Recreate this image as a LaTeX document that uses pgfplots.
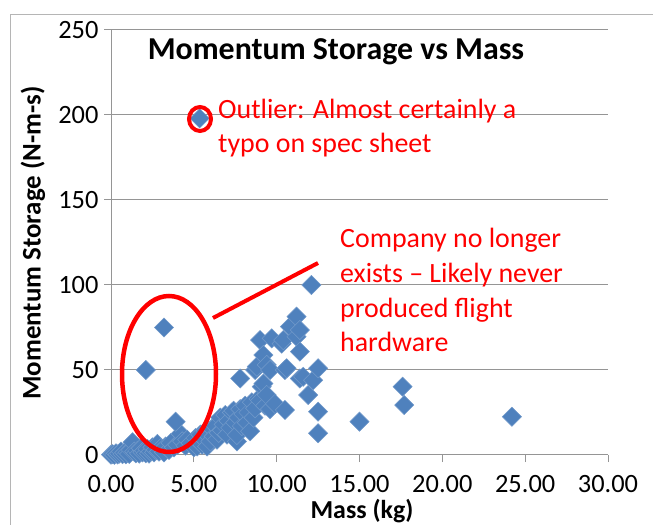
\documentclass[border=0pt]{standalone}
\usepackage{pgfplots}
\pgfplotsset{compat=1.18}
\usepackage{fontspec}
\setmainfont{Carlito}
\definecolor{mkblue}{HTML}{4F81BD}
\definecolor{gridgray}{HTML}{959595}
\definecolor{annred}{HTML}{FF0000}
\begin{document}
\begin{tikzpicture}
\path[use as bounding box] (0,0) rectangle (653bp,525bp);
\begin{scope}
\clip (0,0) rectangle (653bp,525bp);
\draw[gridgray!70, line width=1bp] (10bp,-20bp) -- (10bp,510bp) -- (700bp,510bp);
\end{scope}
\begin{axis}[
  at={(111bp,70bp)}, anchor=south west,
  scale only axis, width=497bp, height=425bp,
  xmin=0, xmax=30, ymin=0, ymax=250,
  xtick={0,5,...,30}, ytick={0,50,...,250},
  axis x line*=bottom, axis y line*=left,
  axis line style={gridgray, line width=1bp},
  tick align=outside, major tick length=7bp,
  tick style={gridgray, line width=1bp},
  ymajorgrids, grid style={gridgray, line width=1bp},
  /pgf/number format/assume math mode=true,
  xticklabel style={/pgf/number format/.cd, fixed, fixed zerofill, precision=2, /tikz/.cd, font=\fontsize{26.5}{28}\selectfont, yshift=-12bp, inner sep=1bp},
  yticklabel style={/pgf/number format/.cd, fixed, /tikz/.cd, font=\fontsize{26.5}{28}\selectfont, xshift=-2bp},
  clip=false,
]
\addplot[only marks, mark=square*, mark size=6.8bp,
  mark options={rotate=45, fill=mkblue, draw=mkblue!80!white, line width=0.5bp}]
coordinates {
(0.0,0.2)(0.1,0.5)(0.2,0.1)(0.3,1.0)(0.4,0.3)(0.5,0.8)(0.6,2.0)(0.7,0.5)(0.8,1.2)(0.9,0.4)
(1.0,1.5)(1.1,0.6)(1.2,3.0)(1.3,7.5)(1.4,2.0)(1.5,1.0)(1.6,2.5)(1.7,0.8)(1.8,4.0)(1.9,1.5)
(2.0,2.5)(2.1,1.0)(2.2,3.5)(2.3,0.8)(2.4,2.0)(2.5,4.5)(2.6,1.5)(2.7,3.0)(2.8,6.5)(2.9,2.0)
(3.0,4.0)(3.2,1.5)(3.3,5.0)(3.5,3.0)(3.6,7.0)(3.8,4.5)(4.0,6.0)(4.2,12.5)(4.3,8.0)(4.5,5.5)
(4.6,9.0)(4.8,7.0)
(2.1,50)(3.2,75)(3.9,19.6)(5.35,198)
(5.0,4.5)(5.1,10.0)(5.2,5.0)(5.3,8.0)(5.4,12.0)(5.5,6.0)(5.6,9.5)(5.7,14.0)(5.8,5.0)(5.9,11.0)
(6.0,8.0)(6.1,15.5)(6.2,11.0)(6.3,17.0)(6.4,9.0)(6.5,13.0)(6.6,22.0)(6.7,14.5)(6.8,18.0)(6.9,23.5)
(7.0,12.0)(7.1,20.0)(7.2,16.0)(7.3,25.0)(7.4,26.0)(7.5,19.0)(7.6,8.0)(7.6,11.8)(7.7,22.0)(7.8,45.0)
(7.8,27.0)(7.9,17.0)(8.0,24.0)(8.1,29.0)(8.2,19.0)(8.3,25.0)(8.4,14.0)(8.5,31.0)(8.7,50.0)(8.6,22.0)
(8.7,27.5)(8.8,52.0)(8.9,33.0)(9.0,32.0)(9.0,67.6)(9.1,40.2)(9.2,42.0)(9.2,58.8)(9.3,29.0)(9.4,35.3)
(9.4,53.0)(9.6,50.0)(9.6,27.0)(9.9,30.0)(9.7,68.6)(10.3,65.5)(10.4,67.6)(10.5,26.5)(10.5,50.0)(10.6,51.0)
(10.8,75.5)(11.2,81.4)(11.2,69.6)(11.4,60.8)(11.4,45.0)(11.4,73.5)(11.6,46.0)(11.9,35.3)(12.1,100.0)(12.2,44.0)
(12.5,51.0)(12.5,25.5)(12.5,12.8)(15.0,19.6)(17.6,40.2)(17.7,29.4)(24.2,22.5)
};
\end{axis}
% title and axis labels
\node[font=\bfseries\fontsize{32}{36}\selectfont] at (336bp,473bp) {Momentum Storage vs Mass};
\node[font=\bfseries\fontsize{26}{30}\selectfont, inner sep=0pt, anchor=base] at (362bp,6.5bp) {Mass (kg)};
\node[font=\bfseries\fontsize{27}{30}\selectfont, rotate=90] at (33bp,282bp) {Momentum Storage (N-m-s)};
% annotations
\draw[annred, line width=4bp] (200bp,406bp) ellipse [x radius=11bp, y radius=12bp];
\draw[annred, line width=4.5bp] (169bp,151bp) ellipse [x radius=47bp, y radius=78bp];
\draw[annred, line width=4bp] (213bp,207bp) -- (318bp,262bp);
\node[annred, anchor=west, align=left, inner sep=0pt, font=\fontsize{28}{34}\selectfont] at (218bp,397bp) {Outlier: Almost certainly a\\typo on spec sheet};
\node[annred, anchor=west, align=left, inner sep=0pt, font=\fontsize{28}{35}\selectfont] at (340bp,235bp) {Company no longer\\exists -- Likely never\\produced flight\\hardware};
\end{tikzpicture}
\end{document}
